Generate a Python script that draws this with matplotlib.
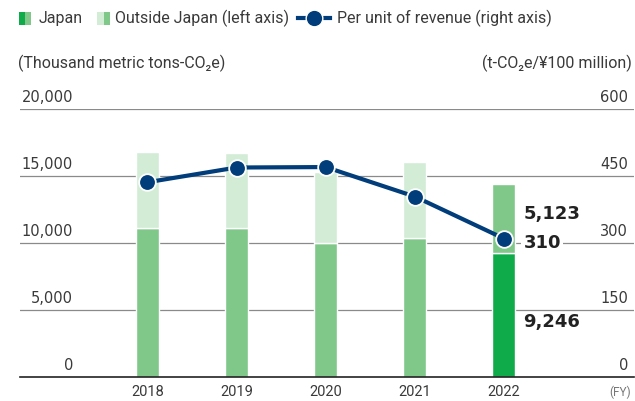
import matplotlib
matplotlib.use("Agg")
import matplotlib.pyplot as plt
import matplotlib.transforms as mtrans
from matplotlib.patches import Rectangle
from matplotlib.lines import Line2D

years = ["2018", "2019", "2020", "2021", "2022"]
japan = [11150, 11150, 10000, 10350, 9246]
outside = [5640, 5570, 5300, 5700, 5123]
per_revenue = [436, 469, 470, 404, 310]
left_ticks = [0, 5000, 10000, 15000, 20000]
right_ticks = [0, 150, 300, 450, 600]

C_MED = "#80c88a"
C_LIGHT = "#d3ecd6"
C_BRIGHT = "#0fab4a"
C_NAVY = "#003d7a"
C_TEXT = "#3a3a3a"
C_GRID = "#8a8a8a"

plt.rcParams['font.family'] = ['Roboto', 'DejaVu Sans']
NUMFONT = ['DejaVu Sans']

W, H = 635, 401
fig = plt.figure(figsize=(W / 100, H / 100), dpi=100)
ax = fig.add_axes([20 / W, 24 / H, 614 / W, 268 / H])
ax.set_xlim(-1.43, 5.46)
ax.set_ylim(0, 20000)
ax2 = ax.twinx()
ax2.set_ylim(0, 600)

for s in ["top", "left", "right"]:
    ax.spines[s].set_visible(False)
    ax2.spines[s].set_visible(False)
ax2.spines["bottom"].set_visible(False)
ax.spines["bottom"].set_color("#222222")
ax.spines["bottom"].set_linewidth(1.2)
ax.set_yticks([])
ax2.set_yticks([])
ax.tick_params(axis="x", length=0, labelsize=10.5, labelcolor=C_TEXT, pad=6)

x = list(range(len(years)))
ax.set_xticks(x)
ax.set_xticklabels(years)

# gridlines
for v in left_ticks[1:]:
    ax.axhline(v, color=C_GRID, lw=0.9, zorder=0)

bottom_colors = [C_MED] * 4 + [C_BRIGHT]
top_colors = [C_LIGHT] * 4 + [C_MED]
bw = 0.26
ax.bar(x, japan, width=bw, color=bottom_colors, edgecolor="white", linewidth=1.0, zorder=2)
ax.bar(x, outside, bottom=japan, width=bw, color=top_colors, edgecolor="white", linewidth=1.0, zorder=2)

ax2.plot(x, per_revenue, color=C_NAVY, lw=3, marker="o", markersize=12,
         markerfacecolor=C_NAVY, markeredgecolor="white", markeredgewidth=1.3, zorder=5)
ax2.set_zorder(ax.get_zorder() + 1)
ax2.patch.set_visible(False)

# tick labels inside the plot, above gridlines
tl = mtrans.blended_transform_factory(fig.transFigure, ax.transData)
for v, rv in zip(left_ticks, right_ticks):
    ax.text(73 / W, v + 520, f"{v:,}", transform=tl, ha="right", va="baseline",
            fontsize=10.5, color=C_TEXT, family=NUMFONT)
    ax.text(628 / W, v + 520, f"{rv}", transform=tl, ha="right", va="baseline",
            fontsize=10.5, color=C_TEXT, family=NUMFONT)

# annotations for 2022
ax.text(4 + 0.22, japan[4] + outside[4] * 0.57, f"{outside[4]:,}", ha="left", va="center",
        fontsize=13, fontweight="bold", color="#222222", zorder=6, family=NUMFONT)
ax2.text(4 + 0.22, 300, f"{per_revenue[4]}", ha="left", va="center",
         fontsize=13, fontweight="bold", color="#222222", zorder=6, family=NUMFONT,
         bbox=dict(facecolor="white", edgecolor="none", pad=1.5))
ax.text(4 + 0.22, 4100, f"{japan[4]:,}", ha="left", va="center",
        fontsize=13, fontweight="bold", color="#222222", zorder=6, family=NUMFONT)

# FY label
fig.text(620 / W, 1 - 392 / H, "(FY)", ha="center", va="center", fontsize=8.5, color="#777777")

# units
fig.text(18 / W, 1 - 63 / H, "(Thousand metric tons-CO\u2082e)", ha="left", va="center",
         fontsize=11.5, color=C_TEXT)
fig.text(632 / W, 1 - 63 / H, "(t-CO\u2082e/\u00a5100 million)", ha="right", va="center",
         fontsize=11.5, color=C_TEXT)

# legend
ly = 1 - 18 / H
def rect(x0, x1, c):
    fig.patches.append(Rectangle((x0 / W, ly - 6.5 / H), (x1 - x0) / W, 13 / H,
                                 transform=fig.transFigure, facecolor=c, edgecolor="none"))
rect(19, 25, C_BRIGHT)
rect(25, 31, C_MED)
fig.text(39 / W, ly, "Japan", ha="left", va="center", fontsize=11.5, color=C_TEXT)
rect(97, 104, C_LIGHT)
rect(104, 110, C_MED)
fig.text(115 / W, ly, "Outside Japan (left axis)", ha="left", va="center", fontsize=11.5, color=C_TEXT)
fig.add_artist(Line2D([298 / W, 305 / W], [ly, ly], transform=fig.transFigure, color=C_NAVY, lw=3))
fig.add_artist(Line2D([323 / W, 330 / W], [ly, ly], transform=fig.transFigure, color=C_NAVY, lw=3))
fig.add_artist(Line2D([314 / W], [ly], transform=fig.transFigure, marker="o", markersize=12,
                      color=C_NAVY, markeredgecolor="white", markeredgewidth=1.0))
fig.text(337 / W, ly, "Per unit of revenue (right axis)", ha="left", va="center", fontsize=11.5, color=C_TEXT)

fig.savefig("out.png", dpi=100)
